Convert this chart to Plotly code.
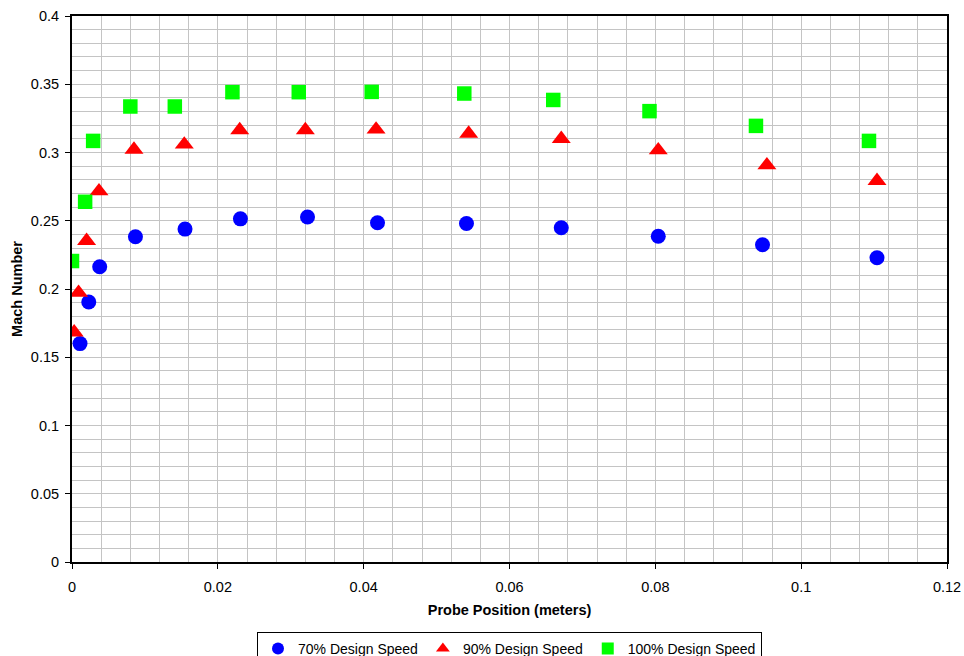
import plotly.graph_objects as go

# 70% Design Speed
x70 = [0.0011, 0.0023, 0.0038, 0.0087, 0.0155, 0.0231, 0.0323, 0.0419, 0.0541, 0.0671, 0.0804, 0.0947, 0.1104]
y70 = [0.160, 0.1905, 0.2163, 0.2383, 0.2439, 0.2514, 0.2527, 0.2485, 0.248, 0.2449, 0.2386, 0.2324, 0.2229]

# 90% Design Speed
x90 = [0.0003, 0.0009, 0.0020, 0.0037, 0.0085, 0.0154, 0.0230, 0.0320, 0.0417, 0.0544, 0.0671, 0.0804, 0.0953, 0.1104]
y90 = [0.1683, 0.1973, 0.2353, 0.2717, 0.3022, 0.3059, 0.3164, 0.3164, 0.3169, 0.3139, 0.3100, 0.3017, 0.2907, 0.2793]

# 100% Design Speed
x100 = [0.0000, 0.0018, 0.0029, 0.0080, 0.0141, 0.0220, 0.0311, 0.0411, 0.0538, 0.0660, 0.0792, 0.0938, 0.1093]
y100 = [0.2205, 0.2639, 0.3085, 0.3337, 0.3337, 0.3442, 0.3442, 0.3444, 0.3432, 0.3385, 0.3303, 0.3195, 0.3085]

names = ["70% Design Speed", "90% Design Speed", "100% Design Speed"]
x_ticks = [0, 0.02, 0.04, 0.06, 0.08, 0.1, 0.12]
x_tick_text = ["0", "0.02", "0.04", "0.06", "0.08", "0.1", "0.12"]
y_ticks = [0, 0.05, 0.1, 0.15, 0.2, 0.25, 0.3, 0.35, 0.4]
y_tick_text = ["0", "0.05", "0.1", "0.15", "0.2", "0.25", "0.3", "0.35", "0.4"]

FONT = "Arial, Liberation Sans, sans-serif"

fig = go.Figure()
fig.add_trace(go.Scatter(x=x70, y=y70, mode="markers", name=names[0],
                         marker=dict(symbol="circle", size=15, color="#0000FF")))
fig.add_trace(go.Scatter(x=x90, y=y90, mode="markers", name=names[1],
                         marker=dict(symbol="triangle-up", size=16.5, color="#FF0000")))
fig.add_trace(go.Scatter(x=x100, y=y100, mode="markers", name=names[2],
                         marker=dict(symbol="square", size=14.5, color="#00FF00")))

grid = "#c4c4c4"
fig.update_layout(
    width=964, height=656,
    margin=dict(l=72, r=17, t=16, b=94, autoexpand=False),
    paper_bgcolor="white", plot_bgcolor="white",
    font=dict(family=FONT, size=14, color="black"),
    showlegend=True,
    legend=dict(orientation="h", x=0.5, xanchor="center", y=-0.128, yanchor="top",
                bordercolor="black", borderwidth=1, bgcolor="white",
                font=dict(family=FONT, size=14, color="black"),
                itemwidth=30, itemsizing="constant", tracegroupgap=0),
)
fig.update_xaxes(
    range=[0, 0.12], tickvals=x_ticks, ticktext=x_tick_text,
    showgrid=True, gridcolor=grid, gridwidth=1,
    minor=dict(dtick=0.004, tick0=0, showgrid=True, gridcolor=grid, gridwidth=1),
    showline=True, linecolor="black", linewidth=2, mirror=True,
    ticks="outside", ticklen=5, tickcolor="black", tickwidth=1,
    zeroline=False, automargin=False,
    title=dict(text="<b>Probe Position (meters)</b>", font=dict(family=FONT, size=14.5), standoff=10),
    tickfont=dict(family=FONT, size=14.5),
    ticklabelstandoff=6,
)
fig.update_yaxes(
    range=[0, 0.4], tickvals=y_ticks, ticktext=y_tick_text,
    showgrid=True, gridcolor=grid, gridwidth=1,
    minor=dict(dtick=0.01, tick0=0, showgrid=True, gridcolor=grid, gridwidth=1),
    showline=True, linecolor="black", linewidth=2, mirror=True,
    ticks="outside", ticklen=5, tickcolor="black", tickwidth=1,
    zeroline=False, automargin=False,
    title=dict(text="<b>Mach Number</b>", font=dict(family=FONT, size=14.5), standoff=5),
    tickfont=dict(family=FONT, size=14.5),
    ticklabelstandoff=3,
)

fig.write_html(
    "out.html",
    config={"displayModeBar": False},
    post_script="document.body.style.margin='0';document.body.style.overflow='hidden';",
)
